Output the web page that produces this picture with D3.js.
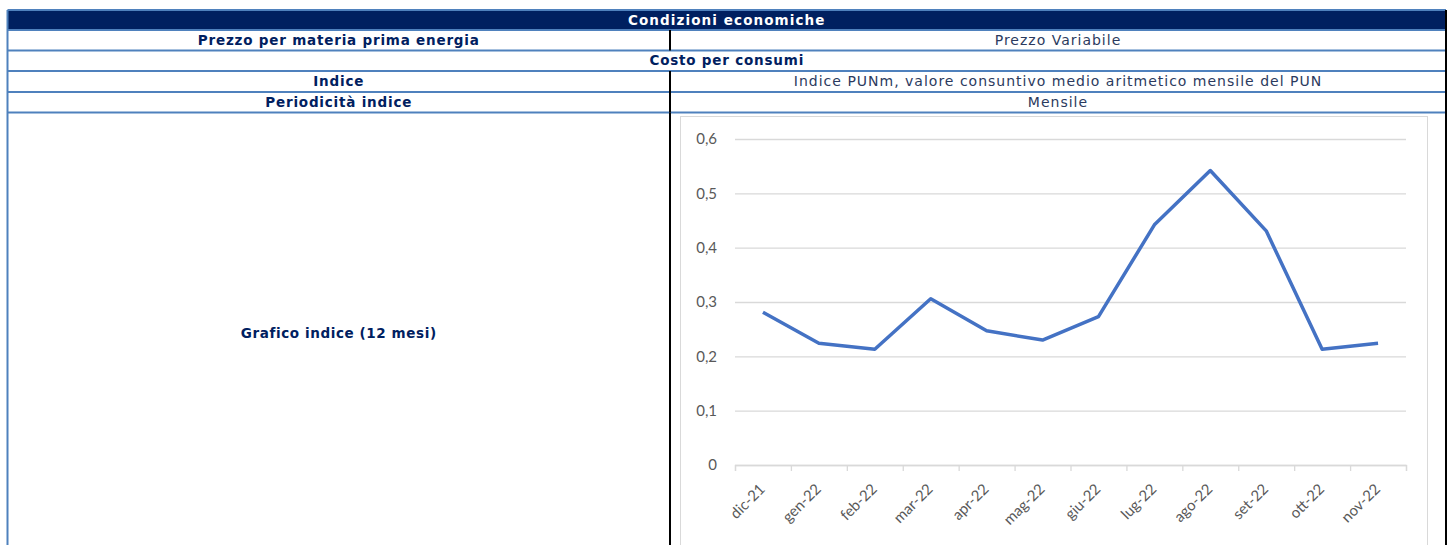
<!DOCTYPE html>
<html>
<head>
<meta charset="utf-8">
<script src="https://cdn.jsdelivr.net/npm/d3@7"></script>
<style>
  body { margin: 0; background: #fff; }
  svg { display: block; }
</style>
</head>
<body>
<svg id="sheet" width="1452" height="545"></svg>
<script>
// table content
var headerTitle = "Condizioni economiche";
var rowLabels = ["Prezzo per materia prima energia", "Costo per consumi", "Indice", "Periodicità indice"];
var rowValues = ["Prezzo Variabile", null, "Indice PUNm, valore consuntivo medio aritmetico mensile del PUN", "Mensile"];
var chartLabel = "Grafico indice (12 mesi)";

// chart data
var months = ["dic-21", "gen-22", "feb-22", "mar-22", "apr-22", "mag-22", "giu-22", "lug-22", "ago-22", "set-22", "ott-22", "nov-22"];
var pun = [0.281, 0.224, 0.213, 0.306, 0.247, 0.230, 0.273, 0.442, 0.542, 0.431, 0.213, 0.224];
var yTicks = [0, 0.1, 0.2, 0.3, 0.4, 0.5, 0.6];

var svg = d3.select("#sheet"),
    left = 7.5, right = 1446, mid = 670,
    rowY = [10, 30, 50.5, 71, 92, 112.5],
    navy = "#002060", blue = "#4f81bd",
    font = "DejaVu Sans";

function boldText(sel) {
  return sel.attr("dy", "0.35em").attr("text-anchor", "middle")
      .attr("font-family", font).attr("font-weight", "bold")
      .attr("font-size", 13.5).attr("letter-spacing", 0.8);
}

// header band
svg.append("rect")
    .attr("x", left).attr("y", rowY[0])
    .attr("width", right - left).attr("height", rowY[1] - rowY[0])
    .attr("fill", navy);

svg.append("text")
    .attr("x", (left + right) / 2).attr("y", (rowY[0] + rowY[1]) / 2)
    .call(boldText)
    .attr("letter-spacing", 1.1)
    .attr("fill", "white")
    .text(headerTitle);

// rows
rowLabels.forEach(function(lab, i) {
  var cy = (rowY[i + 1] + rowY[i + 2]) / 2;
  var spans = rowValues[i] === null;
  svg.append("text")
      .attr("x", spans ? (left + right) / 2 : (left + mid) / 2).attr("y", cy)
      .call(boldText)
      .attr("fill", navy)
      .text(lab);
  if (!spans) {
    svg.append("text")
        .attr("x", (mid + right) / 2).attr("y", cy)
        .attr("dy", "0.35em")
        .attr("text-anchor", "middle")
        .attr("fill", "#2b3a5e").attr("font-family", font).attr("font-size", 14)
        .attr("letter-spacing", 1)
        .text(rowValues[i]);
  }
});

svg.append("text")
    .attr("x", (left + mid) / 2).attr("y", 333)
    .call(boldText)
    .attr("letter-spacing", 0.6)
    .attr("fill", navy)
    .text(chartLabel);

// grid lines of the table
rowY.forEach(function(y) {
  svg.append("line")
      .attr("x1", left).attr("x2", right).attr("y1", y).attr("y2", y)
      .attr("stroke", blue).attr("stroke-width", 2);
});
svg.append("line")
    .attr("x1", left).attr("x2", left).attr("y1", rowY[0]).attr("y2", 545)
    .attr("stroke", blue).attr("stroke-width", 2);
svg.append("line")
    .attr("x1", right).attr("x2", right).attr("y1", rowY[0]).attr("y2", 545)
    .attr("stroke", "black").attr("stroke-width", 2);
rowValues.forEach(function(v, i) {
  if (v === null) return;
  svg.append("line")
      .attr("x1", mid).attr("x2", mid).attr("y1", rowY[i + 1]).attr("y2", rowY[i + 2])
      .attr("stroke", "black").attr("stroke-width", 2);
});
svg.append("line")
    .attr("x1", mid).attr("x2", mid).attr("y1", rowY[5]).attr("y2", 545)
    .attr("stroke", "black").attr("stroke-width", 2);

// chart frame
svg.append("rect")
    .attr("x", 680.5).attr("y", 116.5).attr("width", 747).attr("height", 440)
    .attr("fill", "white").attr("stroke", "#d9d9d9").attr("stroke-width", 1);

var plot = {x0: 735, x1: 1406, y0: 465, y1: 139};

var x = d3.scaleBand().domain(months).range([plot.x0, plot.x1]);
var xEdge = d3.scaleLinear().domain([0, months.length]).range([plot.x0, plot.x1]);
var y = d3.scaleLinear().domain([0, 0.6]).range([plot.y0, plot.y1]);

var fmt = function(d) { return d === 0 ? "0" : d3.format(".1f")(d).replace(".", ","); };

var yAxis = d3.axisLeft(y)
    .tickValues(yTicks)
    .tickFormat(fmt)
    .tickSize(-(plot.x1 - plot.x0));

svg.append("g")
    .attr("transform", "translate(" + plot.x0 + ",0)")
    .call(customYAxis);

// boundary ticks, Excel style
svg.append("g")
    .attr("transform", "translate(0," + plot.y0 + ")")
    .call(d3.axisBottom(xEdge).ticks(months.length).tickSize(6).tickFormat(""))
    .call(function(g) {
      g.select(".domain").attr("stroke", "#d9d9d9").attr("stroke-width", 1.3);
      g.selectAll(".tick line").attr("stroke", "#d9d9d9").attr("stroke-width", 1.3);
    });

svg.append("g")
    .attr("transform", "translate(0," + plot.y0 + ")")
    .call(customXAxis);

var line = d3.line()
    .x(function(d, i) { return x(months[i]) + x.bandwidth() / 2; })
    .y(function(d) { return y(d); });

svg.append("path")
    .datum(pun)
    .attr("fill", "none")
    .attr("stroke", "#4472c4")
    .attr("stroke-width", 3.5)
    .attr("stroke-linejoin", "round")
    .attr("d", line);

function customYAxis(g) {
  g.call(yAxis);
  g.select(".domain").remove();
  g.selectAll(".tick line").attr("stroke", "#d9d9d9").attr("stroke-width", 1.3);
  g.selectAll(".tick text").attr("x", -18).attr("fill", "#595959")
      .attr("font-family", "Lato").attr("font-size", 15);
}

function customXAxis(g) {
  g.call(d3.axisBottom(x).tickSize(0));
  g.select(".domain").remove();
  g.selectAll(".tick text")
      .attr("fill", "#595959").attr("font-family", "Lato").attr("font-size", 15)
      .attr("text-anchor", "end")
      .attr("dy", 0).attr("y", 0)
      .attr("transform", "translate(3,25) rotate(-45)");
}
</script>
</body>
</html>
